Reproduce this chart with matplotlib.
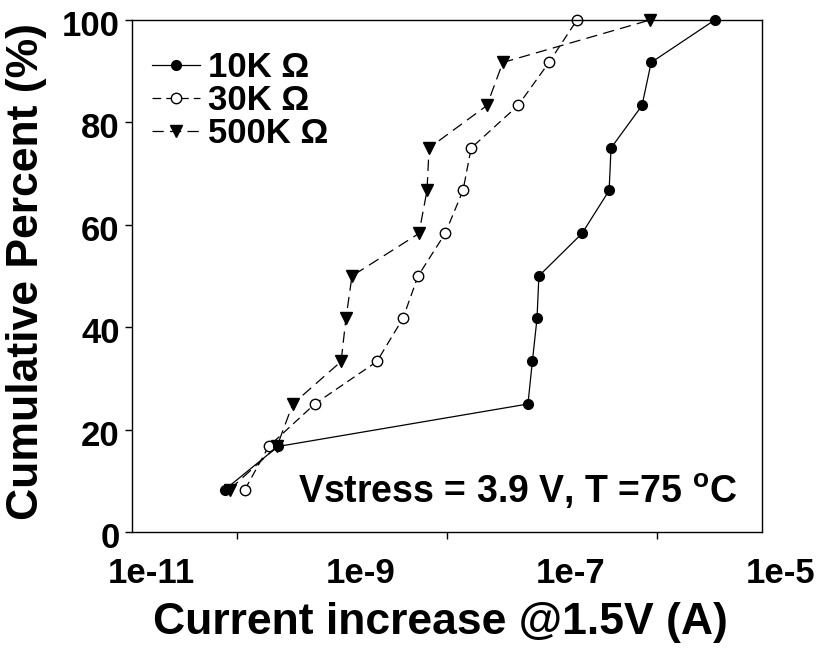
import matplotlib
matplotlib.use("Agg")
import matplotlib.pyplot as plt
import matplotlib.transforms as mtransforms
from matplotlib.ticker import FixedLocator, NullFormatter

plt.rcParams["font.family"] = ["Liberation Sans", "DejaVu Sans"]
plt.rcParams["font.weight"] = "bold"
plt.rcParams["mathtext.fontset"] = "custom"
plt.rcParams["mathtext.rm"] = "Liberation Sans:bold"
plt.rcParams["mathtext.bf"] = "Liberation Sans:bold"

# cumulative percent levels (12 samples per resistor)
percent = [8.3, 16.7, 25, 33.3, 41.7, 50, 58.3, 66.7, 75, 83.3, 91.7, 100]

# current increase @1.5V (A)
i_10k = [7.7e-11, 2.45e-10, 5.9e-8, 6.5e-8, 7.2e-8, 7.5e-8,
         1.93e-7, 3.5e-7, 3.65e-7, 7.2e-7, 8.8e-7, 3.55e-6]
i_30k = [1.19e-10, 2.0e-10, 5.5e-10, 2.15e-9, 3.8e-9, 5.3e-9,
         9.6e-9, 1.42e-8, 1.7e-8, 4.75e-8, 9.35e-8, 1.73e-7]
i_500k = [8.5e-11, 2.4e-10, 3.4e-10, 9.8e-10, 1.09e-9, 1.245e-9,
          5.4e-9, 6.45e-9, 6.75e-9, 2.4e-8, 3.4e-8, 8.6e-7]

labels = ["10K \u03a9", "30K \u03a9", "500K \u03a9"]
x_major = [1e-11, 1e-9, 1e-7, 1e-5]
x_major_labels = ["1e-11", "1e-9", "1e-7", "1e-5"]
x_minor = [1e-11, 1e-10, 1e-8, 1e-6]
y_ticks = [0, 20, 40, 60, 80, 100]

fig = plt.figure(figsize=(8.22, 6.53), dpi=100)
ax = fig.add_axes([0.1606, 0.1853, 0.7664, 0.7841])

h30, = ax.plot(i_30k, percent, color="black", lw=0.9, ls=(0, (7, 4)),
               marker="o", ms=7.5, mfc="white", mec="black", mew=1.0,
               clip_on=False, label=labels[1])
h500, = ax.plot(i_500k, percent, color="black", lw=0.9, ls=(0, (9, 5)),
                marker="v", ms=8, mfc="black", mec="black",
                clip_on=False, label=labels[2])
h10, = ax.plot(i_10k, percent, color="black", lw=0.9, ls="-",
               marker="o", ms=7, mfc="black", mec="black",
               clip_on=False, label=labels[0])

ax.set_xscale("log")
ax.set_xlim(1e-11, 1e-5)
ax.set_ylim(0, 100)

ax.xaxis.set_major_locator(FixedLocator(x_major))
ax.set_xticklabels(x_major_labels)
ax.xaxis.set_minor_locator(FixedLocator(x_minor))
ax.xaxis.set_minor_formatter(NullFormatter())
ax.tick_params(axis="x", which="major", length=0, labelsize=25, pad=18)
ax.tick_params(axis="x", which="minor", length=5, width=1, direction="out")
ax.set_yticks(y_ticks)
ax.tick_params(axis="y", length=5, width=1, direction="out", labelsize=25, pad=4)

# tick labels sit a little right of their decade in the original
shift = mtransforms.ScaledTranslation(0.19, 0, fig.dpi_scale_trans)
for lab in ax.get_xticklabels():
    lab.set_transform(lab.get_transform() + shift)
yshift = mtransforms.ScaledTranslation(0, -0.03, fig.dpi_scale_trans)
for lab in ax.get_yticklabels():
    lab.set_transform(lab.get_transform() + yshift)

for sp in ax.spines.values():
    sp.set_linewidth(1.0)

ax.set_xlabel("Current increase @1.5V (A)", fontsize=32, fontweight="bold")
ax.xaxis.set_label_coords(0.489, -0.137)
ax.set_ylabel("Cumulative Percent (%)", fontsize=32, fontweight="bold")
ax.yaxis.set_label_coords(-0.135, 0.508)

ax.text(0.263, 0.057, r"Vstress = 3.9 V, T =75 $^{\mathbf{o}}$C",
        transform=ax.transAxes, fontsize=27, fontweight="bold",
        va="baseline", ha="left")

ax.legend(handles=[h10, h30, h500], loc="upper left",
          bbox_to_anchor=(0.032, 0.94), frameon=False, fontsize=25,
          borderpad=0, borderaxespad=0, handlelength=1.38,
          handletextpad=0.23, labelspacing=0.0, numpoints=1)

fig.savefig("out.png", dpi=100)
